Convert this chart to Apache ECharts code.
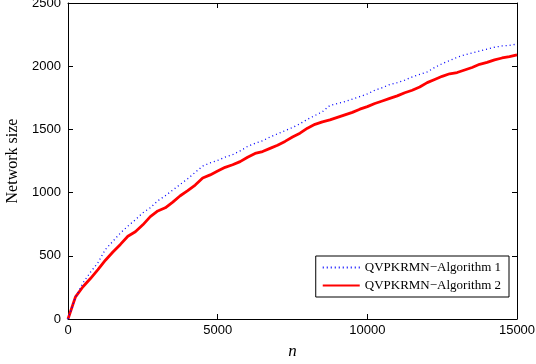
<!DOCTYPE html>
<html>
<head>
<meta charset="utf-8">
<script src="https://cdn.jsdelivr.net/npm/echarts@6/dist/echarts.min.js"></script>
<style>html,body{margin:0;padding:0;background:#fff}#c{width:536px;height:364px}</style>
</head>
<body>
<div id="c"></div>
<script>
var xValues = [0,250,500,750,1000,1250,1500,1750,2000,2250,2500,2750,3000,3250,3500,3750,4000,4250,4500,4750,5000,5250,5500,5750,6000,6250,6500,6750,7000,7250,7500,7750,8000,8250,8500,8750,9000,9250,9500,9750,10000,10250,10500,10750,11000,11250,11500,11750,12000,12250,12500,12750,13000,13250,13500,13750,14000,14250,14500,14750,15000];
var alg1 = [0,170,285,370,445,550,615,680,735,785,840,880,935,975,1020,1065,1110,1160,1210,1235,1255,1280,1300,1330,1365,1390,1410,1440,1465,1490,1515,1545,1580,1610,1640,1690,1705,1720,1740,1760,1780,1810,1830,1855,1870,1890,1915,1935,1955,1990,2020,2045,2070,2090,2105,2120,2135,2150,2160,2165,2175];
var alg2 = [0,175,255,320,390,465,530,590,655,690,745,810,855,880,925,975,1015,1060,1115,1140,1170,1200,1220,1245,1280,1310,1325,1350,1375,1405,1440,1470,1510,1540,1560,1575,1595,1615,1635,1660,1680,1705,1725,1745,1765,1790,1810,1835,1870,1895,1920,1940,1950,1970,1990,2015,2030,2050,2065,2075,2090];
var seriesNames = ['QVPKRMN\u2212Algorithm 1','QVPKRMN\u2212Algorithm 2'];
var xTicks = [0,5000,10000,15000];
var yTicks = [0,500,1000,1500,2000,2500];

function pairs(ys){ return xValues.map(function(x,i){return [x,ys[i]];}); }

var chart = echarts.init(document.getElementById('c'));
function axisLine(){ return {show:true, onZero:false, lineStyle:{color:'#000', width:1}}; }
function tick(){ return {show:true, inside:true, length:5, lineStyle:{color:'#000', width:1}}; }
function label(m){ return {show:true, margin:m, color:'#000', fontFamily:'Liberation Sans, Arial, sans-serif', fontSize:13,
  formatter:function(v){return String(v);}}; }
chart.setOption({
  animation:false,
  backgroundColor:'#fff',
  grid:{left:68, right:19, top:3, bottom:45, containLabel:false, outerBoundsMode:'none'},
  xAxis:[
    {type:'value', min:0, max:15000, interval:5000, position:'bottom',
     name:'n', nameLocation:'middle', nameGap:24,
     nameTextStyle:{fontFamily:'Liberation Serif, Times New Roman, serif', fontStyle:'italic', fontSize:17, color:'#000'},
     axisLine:axisLine(), axisTick:tick(), splitLine:{show:false}, axisLabel:label(5)},
    {type:'value', min:0, max:15000, interval:5000, position:'top',
     axisLine:axisLine(), axisTick:tick(), splitLine:{show:false}, axisLabel:{show:false}}
  ],
  yAxis:[
    {type:'value', min:0, max:2500, interval:500, position:'left',
     name:'Network size', nameLocation:'middle', nameGap:38,
     nameTextStyle:{fontFamily:'Liberation Serif, Times New Roman, serif', fontSize:16, color:'#000'},
     axisLine:axisLine(), axisTick:tick(), splitLine:{show:false}, axisLabel:label(7)},
    {type:'value', min:0, max:2500, interval:500, position:'right',
     axisLine:axisLine(), axisTick:tick(), splitLine:{show:false}, axisLabel:{show:false}}
  ],
  legend:{
    right:27, bottom:67, orient:'vertical', itemWidth:37, itemHeight:10, itemGap:5,
    padding:[5,8,5,6], borderColor:'#000', borderWidth:1, backgroundColor:'#fff',
    itemStyle:{color:'rgba(0,0,0,0)', borderColor:'rgba(0,0,0,0)', borderWidth:0, opacity:0},
    textStyle:{fontFamily:'Liberation Serif, Times New Roman, serif', fontSize:13, color:'#000'},
    data:[{name:seriesNames[0]},{name:seriesNames[1]}]
  },
  series:[
    {name:seriesNames[0], type:'line', data:pairs(alg1), symbol:'none', z:3,
     lineStyle:{color:'#0000ff', width:1.3, type:[1,3]}, itemStyle:{color:'#0000ff'}},
    {name:seriesNames[1], type:'line', data:pairs(alg2), symbol:'none', z:2,
     lineStyle:{color:'#ff0000', width:2.8}, itemStyle:{color:'#ff0000'}}
  ]
});
</script>
</body>
</html>
